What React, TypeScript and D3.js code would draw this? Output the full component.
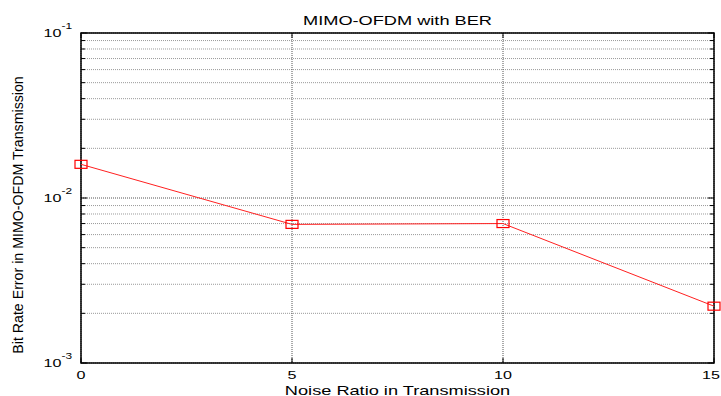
import * as d3 from "d3";

const SNR = [0, 5, 10, 15];
const BER = [0.0160, 0.00692, 0.00700, 0.00221];
const X_TICKS = [0, 5, 10, 15];
const Y_DECADES = [-3, -2, -1];

const W = 721, H = 396;
const mg = { t: 33, r: 7, b: 33, l: 81 };
const FONT = "'Liberation Sans', Arial, sans-serif";
// the reference looks stretched sideways, so horizontal text gets widened
const SX = 1.4;

export default function App() {
  const IW = W - mg.l - mg.r, IH = H - mg.t - mg.b;
  const x = d3.scaleLinear().domain([0, 15]).range([0, IW]);
  const y = d3.scaleLog().domain([1e-3, 1e-1]).range([IH, 0]);

  const minor: number[] = [];
  [-3, -2].forEach(e => { for (let k = 2; k <= 9; k++) minor.push(k * Math.pow(10, e)); });
  const majors = Y_DECADES.map(e => Math.pow(10, e));

  const line = d3.line<number>().x((_, i) => x(SNR[i])).y(d => y(d));

  return (
    <>
      <style>{"body{margin:0}"}</style>
      <svg width={W} height={H} style={{ display: "block", fontFamily: FONT }}>
        <rect width={W} height={H} fill="white" />
        <g transform={`translate(${mg.l},${mg.t})`}>
          {/* grid */}
          {minor.map(v => (
            <line key={"m" + v} x1={0} x2={IW} y1={y(v)} y2={y(v)} stroke="#9a9a9a" strokeDasharray="1,1" />
          ))}
          {majors.map(v => (
            <line key={"d" + v} x1={0} x2={IW} y1={y(v)} y2={y(v)} stroke="#555" strokeDasharray="1,1" />
          ))}
          {X_TICKS.map(v => (
            <line key={"x" + v} x1={x(v)} x2={x(v)} y1={0} y2={IH} stroke="#555" strokeDasharray="1,1" />
          ))}

          {/* ticks */}
          {X_TICKS.map(v => (
            <g key={"xt" + v}>
              <line x1={x(v)} x2={x(v)} y1={IH} y2={IH - 5} stroke="black" />
              <line x1={x(v)} x2={x(v)} y1={0} y2={5} stroke="black" />
            </g>
          ))}
          {minor.map(v => (
            <g key={"ymt" + v}>
              <line x1={0} x2={4} y1={y(v)} y2={y(v)} stroke="black" />
              <line x1={IW} x2={IW - 4} y1={y(v)} y2={y(v)} stroke="black" />
            </g>
          ))}
          {majors.map(v => (
            <g key={"yt" + v}>
              <line x1={0} x2={6} y1={y(v)} y2={y(v)} stroke="black" />
              <line x1={IW} x2={IW - 6} y1={y(v)} y2={y(v)} stroke="black" />
            </g>
          ))}

          <rect x={0} y={0} width={IW} height={IH} fill="none" stroke="black" strokeWidth={1.5} />

          {/* series */}
          <path d={line(BER) ?? ""} fill="none" stroke="#ff2020" strokeWidth={1} />
          {BER.map((d, i) => (
            <rect key={"p" + i} x={x(SNR[i]) - 6} y={y(d) - 4} width={12} height={8} fill="none" stroke="#ff0000" strokeWidth={1.2} />
          ))}

          {/* tick labels; the last one is kept inside the page */}
          {X_TICKS.map((v, i) => {
            const last = i === X_TICKS.length - 1;
            const tx = last ? W - mg.l - 1 : x(v);
            return (
              <text key={"xl" + v} transform={`translate(${tx},${IH + 16}) scale(${SX},1)`} textAnchor={last ? "end" : "middle"} fontSize={11.5}>{v}</text>
            );
          })}
          {Y_DECADES.map(e => (
            <text key={"yl" + e} transform={`translate(-9,${y(Math.pow(10, e)) + 4}) scale(${SX},1)`} textAnchor="end" fontSize={11.5}>
              10<tspan dy={-8} fontSize={8.5}>{e}</tspan>
            </text>
          ))}

          {/* titles */}
          <text transform={`translate(${IW / 2},-8) scale(${SX},1)`} textAnchor="middle" fontSize={13}>MIMO-OFDM with BER</text>
          <text transform={`translate(${IW / 2},${IH + 32}) scale(${SX},1)`} textAnchor="middle" fontSize={13}>Noise Ratio in Transmission</text>
          <text transform={`translate(-58,${IH / 2 + 17}) rotate(-90)`} textAnchor="middle" fontSize={14.2}>
            Bit Rate Error in MIMO-OFDM Transmission
          </text>
        </g>
      </svg>
    </>
  );
}
